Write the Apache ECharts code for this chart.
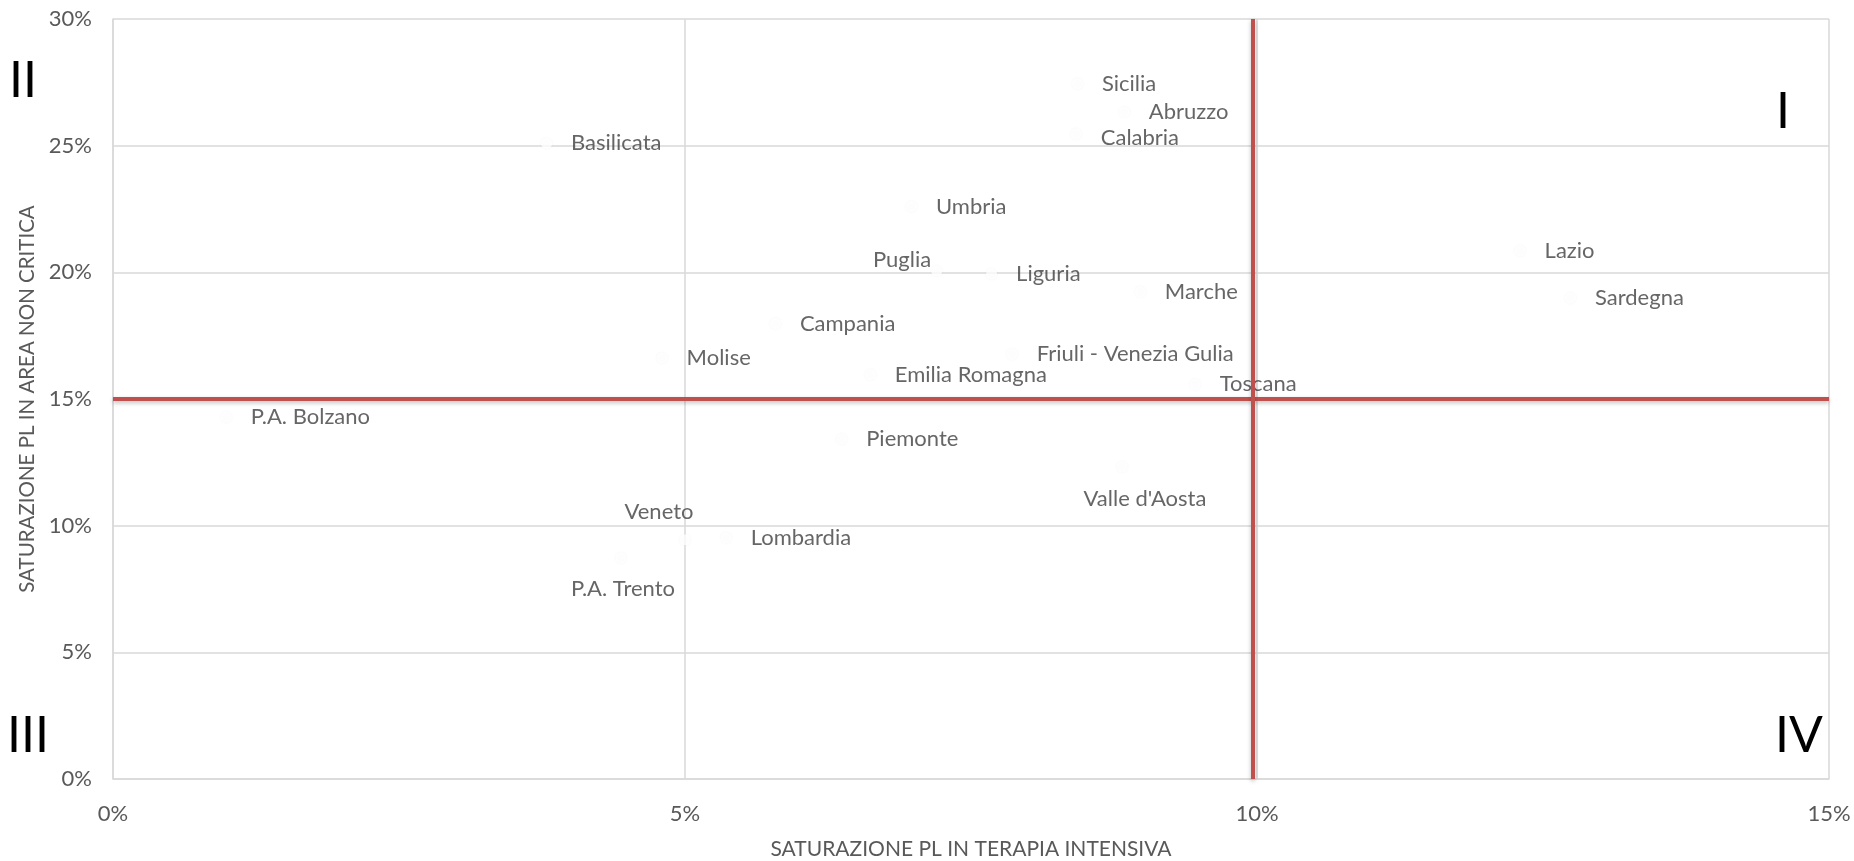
<!DOCTYPE html>
<html>
<head>
<meta charset="utf-8">
<title>Saturazione PL</title>
<script src="https://cdn.jsdelivr.net/npm/echarts@6/dist/echarts.min.js"></script>
<style>
  html, body { margin: 0; padding: 0; background: #fff; }
  #chart { width: 1854px; height: 861px; }
</style>
</head>
<body>
<div id="chart"></div>
<script>
// Regioni
const regions = [
  'Sicilia', 'Abruzzo', 'Calabria', 'Basilicata', 'Umbria', 'Puglia', 'Liguria',
  'Lazio', 'Marche', 'Sardegna', 'Campania', 'Friuli - Venezia Gulia', 'Molise',
  'Emilia Romagna', 'Toscana', 'P.A. Bolzano', 'Piemonte', "Valle d'Aosta",
  'Veneto', 'Lombardia', 'P.A. Trento'
];

// Saturazione PL in terapia intensiva (%)
const intensiveSat = [
  8.43, 8.84, 8.42, 3.79, 6.98, 7.20, 7.68,
  12.30, 8.98, 12.74, 5.79, 7.86, 4.80,
  6.62, 9.46, 0.99, 6.37, 8.82,
  5.00, 5.36, 4.44
];

// Saturazione PL in area non critica (%)
const nonCriticalSat = [
  27.44, 26.32, 25.46, 25.09, 22.60, 20.05, 19.93,
  20.85, 19.23, 18.99, 17.98, 16.77, 16.62,
  15.96, 15.58, 14.29, 13.42, 12.32,
  9.44, 9.52, 8.72
];

// Soglie dei quadranti
const thresholdX = 9.96;
const thresholdY = 15;

// Assi
const xTicks = [0, 5, 10, 15];
const yTicks = [0, 5, 10, 15, 20, 25, 30];

// Etichette spostate a mano come nell'originale
const labelTweaks = {
  'Puglia': { position: 'left', offset: [19, -11] },
  'Calabria': { offset: [0, 4] },
  'Veneto': { position: 'top', offset: [-26, 8] },
  'P.A. Trento': { position: 'bottom', offset: [2, -5] },
  "Valle d'Aosta": { position: 'bottom', offset: [23, -3] }
};

const chart = echarts.init(document.getElementById('chart'));

const points = regions.map((name, i) => ({
  name: name,
  value: [intensiveSat[i], nonCriticalSat[i]],
  label: labelTweaks[name] || {}
}));

const font = 'Lato';
const quadStyle = { fontFamily: font, fontSize: 50, fill: '#000' };

const options = {
  animation: false,
  grid: { left: 113, right: 25, top: 19, bottom: 82, outerBoundsMode: 'none' },
  xAxis: {
    type: 'value',
    min: xTicks[0],
    max: xTicks[xTicks.length - 1],
    interval: 5,
    name: 'SATURAZIONE PL IN TERAPIA INTENSIVA',
    nameLocation: 'middle',
    nameGap: 60,
    nameTextStyle: { color: '#595959', fontFamily: font, fontSize: 21 },
    axisLine: { show: true, lineStyle: { color: '#D9D9D9', width: 1.5 } },
    axisTick: { show: false },
    axisLabel: { color: '#595959', fontFamily: font, fontSize: 22, margin: 24, formatter: '{value}%' },
    splitLine: { show: true, lineStyle: { color: '#D9D9D9', width: 1.5 } }
  },
  yAxis: {
    type: 'value',
    min: yTicks[0],
    max: yTicks[yTicks.length - 1],
    interval: 5,
    name: 'SATURAZIONE PL IN AREA NON CRITICA',
    nameLocation: 'middle',
    nameGap: 75,
    nameTextStyle: { color: '#595959', fontFamily: font, fontSize: 20.5 },
    axisLine: { show: true, lineStyle: { color: '#D9D9D9', width: 1.5 } },
    axisTick: { show: false },
    axisLabel: { color: '#595959', fontFamily: font, fontSize: 22, margin: 21, formatter: '{value}%' },
    splitLine: { show: true, lineStyle: { color: '#D9D9D9', width: 1.5 } }
  },
  series: [
    {
      type: 'scatter',
      symbol: 'circle',
      symbolSize: 11,
      itemStyle: {
        color: '#ffffff',
        shadowBlur: 3,
        shadowColor: 'rgba(0,0,0,0.06)'
      },
      label: {
        show: true,
        position: 'right',
        distance: 19,
        formatter: '{b}',
        color: '#404040',
        fontFamily: font,
        fontSize: 22
      },
      data: points,
      markLine: {
        silent: true,
        symbol: 'none',
        label: { show: false },
        lineStyle: {
          type: 'solid',
          color: '#C0504D',
          width: 4,
          shadowBlur: 4,
          shadowColor: 'rgba(0,0,0,0.25)',
          shadowOffsetY: 2
        },
        data: [
          { yAxis: thresholdY },
          { xAxis: thresholdX }
        ]
      }
    }
  ],
  graphic: [
    { type: 'text', left: 9, top: 56, style: Object.assign({ text: 'II' }, quadStyle) },
    { type: 'text', left: 1776, top: 87, style: Object.assign({ text: 'I' }, quadStyle) },
    { type: 'text', left: 7, top: 711, style: Object.assign({ text: 'III' }, quadStyle) },
    { type: 'text', left: 1775, top: 711, style: Object.assign({ text: 'IV' }, quadStyle) }
  ]
};

chart.setOption(options);
</script>
</body>
</html>
